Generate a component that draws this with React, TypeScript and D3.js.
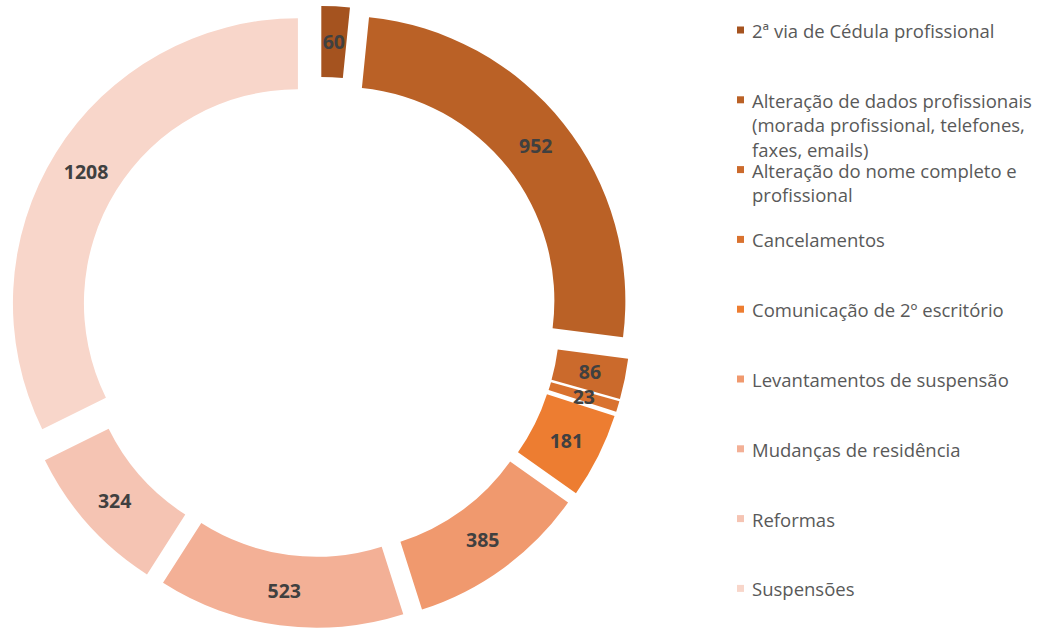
import React, { useRef, useEffect } from 'react';
import * as d3 from 'd3';

// categories and values
const categories = [
  '2ª via de Cédula profissional',
  'Alteração de dados profissionais (morada profissional, telefones, faxes, emails)',
  'Alteração do nome completo e profissional',
  'Cancelamentos',
  'Comunicação de 2º escritório',
  'Levantamentos de suspensão',
  'Mudanças de residência',
  'Reformas',
  'Suspensões',
];
const values = [60, 952, 86, 23, 181, 385, 523, 324, 1208];
const colors = ['#A5531F', '#BA6126', '#CB6A2C', '#D9722F', '#ED7D31', '#F0996E', '#F3B096', '#F5C4B3', '#F8D6CA'];

const width = 1038;
const height = 628;

const App: React.FC = () => {
  const svgRef = useRef<SVGSVGElement>(null);

  useEffect(() => {
    if (!svgRef.current) return;
    const svg = d3.select(svgRef.current);
    svg.selectAll('*').remove();

    const cx = 320;
    const cy = 317;
    const outer = 285;
    const inner = 214;
    const explode = 26;

    const pie = d3.pie<number>().sort(null).value(d => d);
    const arcs = pie(values);
    const arc = d3.arc<d3.PieArcDatum<number>>().innerRadius(inner).outerRadius(outer);

    const g = svg.append('g').attr('transform', `translate(${cx},${cy})`);

    const slice = g.selectAll('g.slice')
      .data(arcs)
      .enter()
      .append('g')
      .attr('class', 'slice')
      .attr('transform', d => {
        const mid = (d.startAngle + d.endAngle) / 2;
        return `translate(${explode * Math.sin(mid)},${-explode * Math.cos(mid)})`;
      });

    slice.append('path')
      .attr('d', arc)
      .attr('fill', (_, i) => colors[i]);

    slice.append('text')
      .attr('x', d => arc.centroid(d)[0])
      .attr('y', d => arc.centroid(d)[1])
      .attr('text-anchor', 'middle')
      .attr('dominant-baseline', 'central')
      .attr('font-family', 'Open Sans, sans-serif')
      .attr('font-weight', 'bold')
      .attr('font-size', 19.5)
      .attr('fill', '#404040')
      .text(d => String(d.data));

    // legend
    const legend = svg.append('g');
    const maxW = 292;
    categories.forEach((name, i) => {
      const y0 = 30 + i * 69.8;
      legend.append('rect')
        .attr('x', 737)
        .attr('y', y0 - 3.5)
        .attr('width', 7)
        .attr('height', 7)
        .attr('fill', colors[i]);
      const text = legend.append('text')
        .attr('x', 752)
        .attr('y', y0)
        .attr('dominant-baseline', 'central')
        .attr('font-family', 'Open Sans, sans-serif')
        .attr('font-size', 18.5)
        .attr('fill', '#595959');
      const words = name.split(' ');
      let line: string[] = [];
      let lineNo = 0;
      let tspan = text.append('tspan').attr('x', 752).attr('y', y0);
      words.forEach(w => {
        line.push(w);
        tspan.text(line.join(' '));
        if ((tspan.node() as SVGTSpanElement).getComputedTextLength() > maxW && line.length > 1) {
          line.pop();
          tspan.text(line.join(' '));
          line = [w];
          lineNo += 1;
          tspan = text.append('tspan').attr('x', 752).attr('y', y0 + lineNo * 24.5).text(w);
        }
      });
    });
  }, []);

  return (
    <svg
      ref={svgRef}
      width={width}
      height={height}
      style={{ position: 'absolute', left: 0, top: 0, background: '#fff' }}
    />
  );
};

export default App;
